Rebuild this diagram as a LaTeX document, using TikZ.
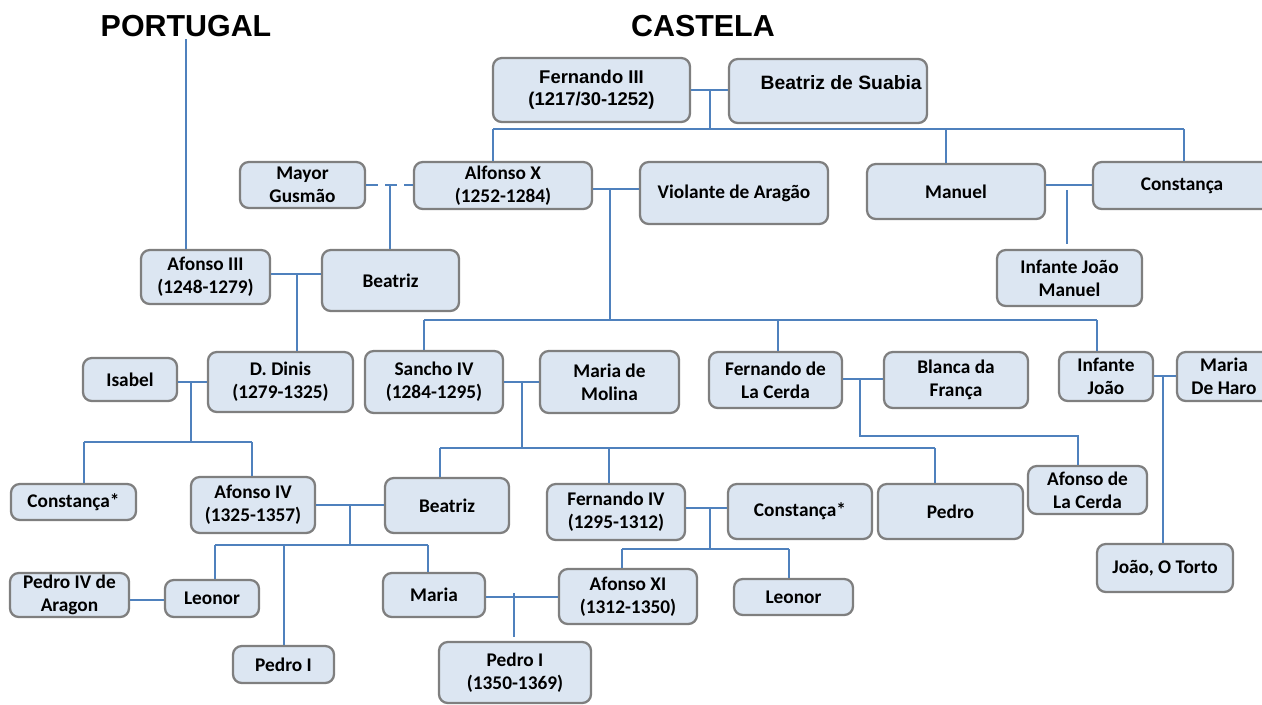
\documentclass[tikz,border=0pt]{standalone}
\usepackage{fontspec}
\setmainfont{Carlito}
\newfontfamily\arial{Liberation Sans}
\usetikzlibrary{calc}
\definecolor{caixa}{HTML}{DCE6F2}
\definecolor{borda}{HTML}{7F7F7F}
\definecolor{linha}{HTML}{4F81BD}
\tikzset{
  pessoa/.style={draw=borda, line width=1.3pt, fill=caixa, rounded corners=5pt, align=center, inner sep=1pt, font=\bfseries\fontsize{11}{13}\selectfont},
  liga/.style={draw=linha, line width=0.7pt},
  titulo/.style={font=\arial\bfseries\fontsize{17.3}{20}\selectfont, inner sep=1pt}
}
\begin{document}
\begin{tikzpicture}[x=0.02cm, y=-0.02cm]
            \useasboundingbox (0,0) rectangle (1262,704);
            \node[titulo] (portugal) at (186,26.5) {PORTUGAL};
            \node[titulo] (castela) at (703,26.5) {CASTELA};
            
            % caixas
            \node[pessoa, minimum width=197*0.02cm, minimum height=64*0.02cm, font=\arial\bfseries\fontsize{10.5}{12.5}\selectfont] (fernando) at (591.5,90) {Fernando III\\(1217/30-1252)};
            \node[pessoa, minimum width=198*0.02cm, minimum height=64*0.02cm, text depth=10pt, font=\arial\bfseries\fontsize{11}{13}\selectfont] (beatrizS) at (828,91) {\hspace*{15pt}Beatriz de Suabia};
            \foreach \n/\x/\y/\w/\h/\t in {
                mayor/302.5/185/125/46/{Mayor\\Gusmão},
                alfonsoX/503/185.5/178/47/{Alfonso X\\(1252-1284)},
                violante/734/193/188/62/{Violante de Aragão},
                manuel/956/191.5/178/55/{Manuel},
                constanca/1182/185.5/178/47/{Constança},
                infJM/1069.5/278/145/56/{Infante João\\Manuel},
                afonsoIII/205.5/277/129/54/{Afonso III\\(1248-1279)},
                beatrizM/390.5/280.5/137/61/{Beatriz},
                isabel/130/379.5/94/43/{Isabel},
                dinis/280.5/382/145/60/{D. Dinis\\(1279-1325)},
                sancho/434/382/138/62/{Sancho IV\\(1284-1295)},
                molina/609.5/382/139/62/{Maria de\\Molina},
                cerda/775.5/380/133/56/{Fernando de\\La Cerda},
                blanca/956/380/144/56/{Blanca da\\França},
                infJ/1106/376.5/94/49/{Infante\\João},
                haro/1224/376.5/94/49/{Maria\\De Haro},
                constA/73.5/502/125/36/{Constança*},
                afonsoIV/253/505/124/56/{Afonso IV\\(1325-1357)},
                beatrizB/447/505.5/124/55/{Beatriz},
                fernandoIV/616/512/138/56/{Fernando IV\\(1295-1312)},
                constB/800/511.5/144/55/{Constança*},
                pedro/950.5/511.5/145/55/{Pedro},
                afonsoC/1087.5/490/119/48/{Afonso de\\La Cerda},
                torto/1165/568/136/48/{João, O Torto},
                pedroIV/69.5/595/119/44/{Pedro IV de\\Aragon},
                leonorA/212/598.5/94/37/{Leonor},
                pedroIa/283.5/664.5/101/37/{Pedro I},
                maria/434/595/102/44/{Maria},
                afonsoXI/628/596.5/138/55/{Afonso XI\\(1312-1350)},
                leonorB/793.5/597/119/36/{Leonor},
                pedroIb/515/672.5/152/61/{Pedro I\\(1350-1369)}} {
                \node[pessoa, minimum width=\w*0.02cm, minimum height=\h*0.02cm] (\n) at (\x,\y) {\t};
            }
            
            % pontos de ligacao
            \coordinate (f1) at (710,90);
            \coordinate (f1a) at (493,129);
            \coordinate (f1b) at (946,129);
            \coordinate (f1c) at (1184,129);
            \coordinate (f2) at (390,185);
            \coordinate (f3) at (610,189);
            \coordinate (f3a) at (424,320);
            \coordinate (f3b) at (778,320);
            \coordinate (f3c) at (1097,320);
            \coordinate (f4) at (1067,185);
            \coordinate (f4a) at (1067,190);
            \coordinate (f4b) at (1067,244);
            \coordinate (f5) at (297,274);
            \coordinate (f6) at (191,382);
            \coordinate (f6a) at (84,442);
            \coordinate (f6b) at (252,442);
            \coordinate (f7) at (522,382);
            \coordinate (f7a) at (440,448);
            \coordinate (f7b) at (609,448);
            \coordinate (f7c) at (935,448);
            \coordinate (f8) at (860,379);
            \coordinate (f8a) at (1078,436);
            \coordinate (f9) at (1163,376);
            \coordinate (f10) at (350,505);
            \coordinate (f10a) at (215,545);
            \coordinate (f10b) at (284,545);
            \coordinate (f10c) at (428,545);
            \coordinate (f11) at (147,600);
            \coordinate (f12) at (710,508);
            \coordinate (f12a) at (622,549);
            \coordinate (f12b) at (789,549);
            \coordinate (f13) at (514,597);
            \coordinate (f13a) at (514,593);
            \coordinate (f13b) at (514,637);
            
            \draw[liga] (portugal.south) -- (portugal.south |- afonsoIII.north);
            
            % casais
            \draw[liga] (f1 -| fernando.east) -- (f1 -| beatrizS.west);
            \draw[liga, dash pattern=on 6.8pt off 4pt] (f2 -| mayor.east) -- (f2 -| alfonsoX.west);
            \draw[liga] (f3 -| alfonsoX.east) -- (f3 -| violante.west);
            \draw[liga] (f4 -| manuel.east) -- (f4 -| constanca.west);
            \draw[liga] (f5 -| afonsoIII.east) -- (f5 -| beatrizM.west);
            \draw[liga] (f6 -| isabel.east) -- (f6 -| dinis.west);
            \draw[liga] (f7 -| sancho.east) -- (f7 -| molina.west);
            \draw[liga] (f8 -| cerda.east) -- (f8 -| blanca.west);
            \draw[liga] (f9 -| infJ.east) -- (f9 -| haro.west);
            \draw[liga] (f10 -| afonsoIV.east) -- (f10 -| beatrizB.west);
            \draw[liga] (f11 -| pedroIV.east) -- (f11 -| leonorA.west);
            \draw[liga] (f12 -| fernandoIV.east) -- (f12 -| constB.west);
            \draw[liga] (f13 -| maria.east) -- (f13 -| afonsoXI.west);
            
            % filhos
            \draw[liga] (f1) -- (f1 |- f1a) (f1a) -- (f1c);
            \draw[liga] (f2) -- (f2 |- beatrizM.north);
            \draw[liga] (f3) -- (f3 |- f3a) (f3a) -- (f3c);
            \draw[liga] (f4a) -- (f4b);
            \draw[liga] (f5) -- (f5 |- dinis.north);
            \draw[liga] (f6) -- (f6 |- f6a) (f6a) -- (f6b);
            \draw[liga] (f7) -- (f7 |- f7a) (f7a) -- (f7c);
            \draw[liga] (f8) |- (f8a) -- (f8a |- afonsoC.north);
            \draw[liga] (f9) -- (f9 |- torto.north);
            \draw[liga] (f10) -- (f10 |- f10a) (f10a) -- (f10c);
            \draw[liga] (f12) -- (f12 |- f12a) (f12a) -- (f12b);
            \draw[liga] (f13a) -- (f13b);
            \foreach \c/\n in {f1a/alfonsoX, f1b/manuel, f1c/constanca, f3a/sancho, f3b/cerda, f3c/infJ, f6a/constA, f6b/afonsoIV, f7a/beatrizB, f7b/fernandoIV, f7c/pedro, f10a/leonorA, f10b/pedroIa, f10c/maria, f12a/afonsoXI, f12b/leonorB} {
                \draw[liga] (\c) -- (\c |- \n.north);
            }
            
        \end{tikzpicture}
\end{document}
